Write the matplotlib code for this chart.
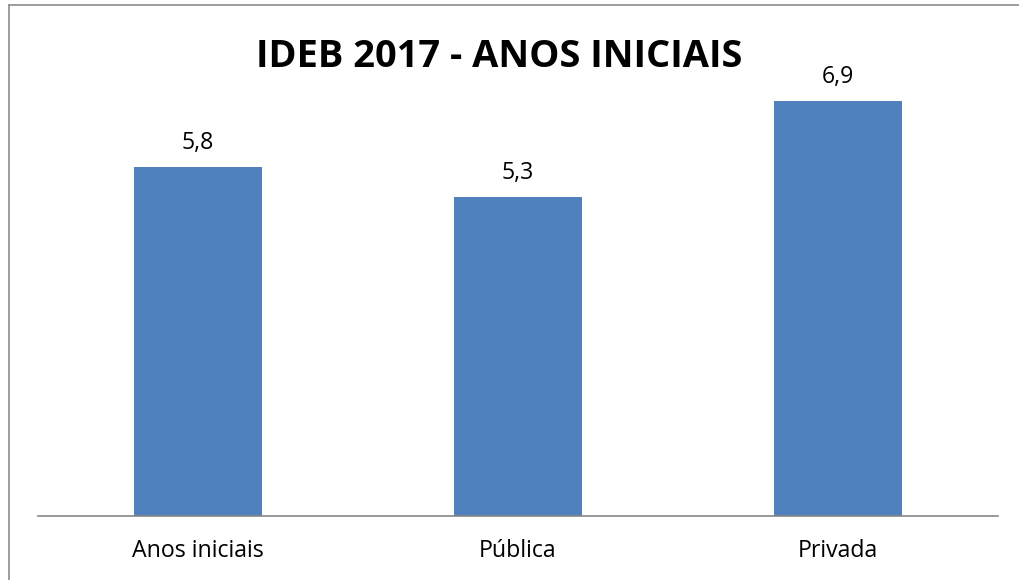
import matplotlib.pyplot as plt
from matplotlib.lines import Line2D

categorias = ['Anos iniciais', 'Pública', 'Privada']
valores = [5.8, 5.3, 6.9]
rotulos = ['5,8', '5,3', '6,9']
titulo = 'IDEB 2017 - ANOS INICIAIS'

plt.rcParams['font.family'] = ['Open Sans', 'DejaVu Sans']

fig = plt.figure(figsize=(10.2, 5.8), dpi=100)
ax = fig.add_axes([38 / 1020, 1 - 516 / 580, 960 / 1020, 481.6 / 580])

x = range(len(categorias))
barras = ax.bar(x, valores, width=0.4, color='#4F81BD', zorder=2)
ax.set_xlim(-0.5, len(categorias) - 0.5)
ax.set_ylim(0, 8)

for b, r in zip(barras, rotulos):
    ax.annotate(r, (b.get_x() + b.get_width() / 2, b.get_height()),
                xytext=(0, 13), textcoords='offset points',
                ha='center', va='baseline', fontsize=16.7)

ax.set_xticks(list(x))
ax.set_xticklabels(categorias, fontsize=16.7)
ax.tick_params(axis='x', length=0, pad=16.5)
ax.set_yticks([])
for s in ['top', 'right', 'left']:
    ax.spines[s].set_visible(False)
ax.spines['bottom'].set_color('#868686')
ax.spines['bottom'].set_linewidth(1.2)

fig.text(499 / 1020, 1 - 57 / 580, titulo, ha='center', va='center',
         fontsize=27.4, fontweight='bold')

# moldura do gráfico
fig.add_artist(Line2D([9.5 / 1020, 9.5 / 1020], [0, 1 - 4.5 / 580],
                      transform=fig.transFigure, color='#8c8c8c', lw=1.2))
fig.add_artist(Line2D([9.5 / 1020, 1], [1 - 4.5 / 580, 1 - 4.5 / 580],
                      transform=fig.transFigure, color='#8c8c8c', lw=1.2))

fig.savefig('out.png', dpi=100)
